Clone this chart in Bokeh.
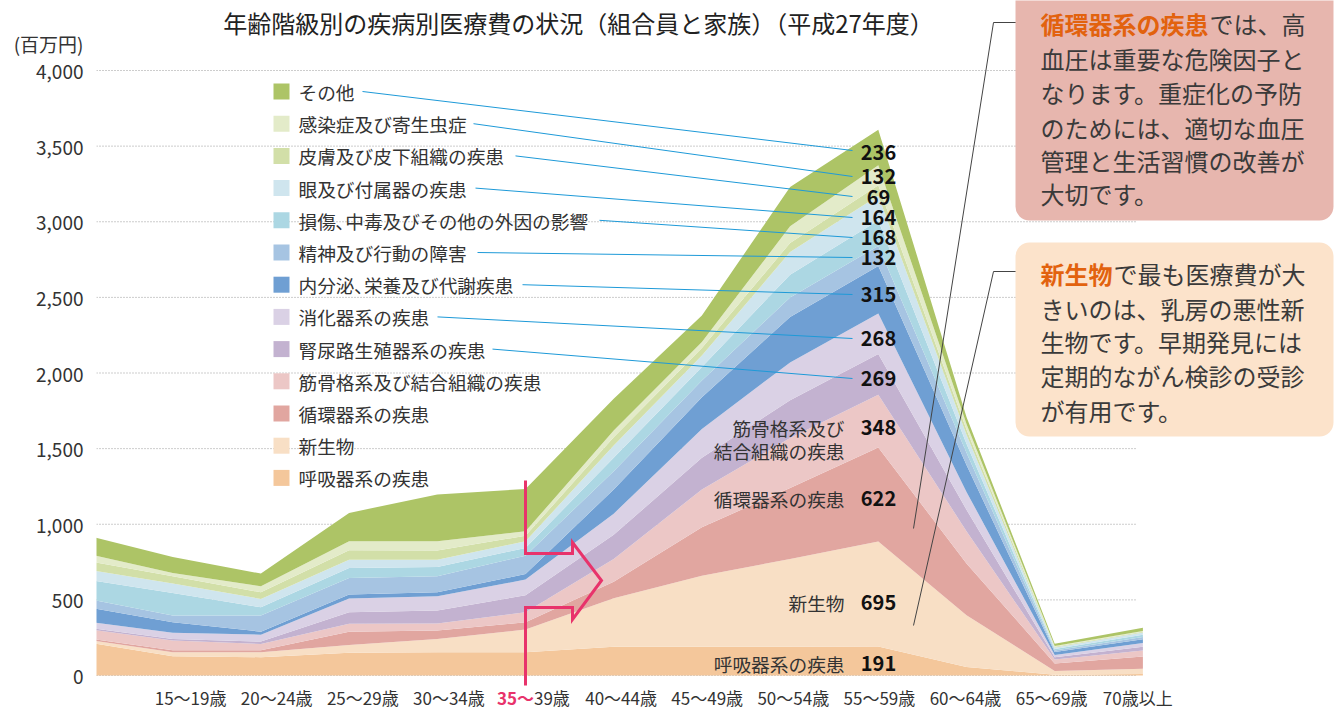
from bokeh.plotting import figure
from bokeh.models import ColumnDataSource, FixedTicker, NumeralTickFormatter, Range1d, BoxAnnotation
from bokeh.core.properties import value
from bokeh.embed import file_html
from bokeh.resources import INLINE

FONT = value("Noto Sans CJK JP")

# ---------------- data ----------------
age_labels = ["", "15～19歳", "20～24歳", "25～29歳", "30～34歳", "35～39歳", "40～44歳",
              "45～49歳", "50～54歳", "55～59歳", "60～64歳", "65～69歳", "70歳以上"]

# stacking order: bottom -> top
series_names = ["呼吸器系の疾患", "新生物", "循環器系の疾患", "筋骨格系及び結合組織の疾患",
                "腎尿路生殖器系の疾患", "消化器系の疾患", "内分泌、栄養及び代謝疾患",
                "精神及び行動の障害", "損傷、中毒及びその他の外因の影響", "眼及び付属器の疾患",
                "皮膚及び皮下組織の疾患", "感染症及び寄生虫症", "その他"]
legend_names = ["呼吸器系の疾患", "新生物", "循環器系の疾患", "筋骨格系及び結合組織の疾患",
                "腎尿路生殖器系の疾患", "消化器系の疾患", "内分泌､栄養及び代謝疾患",
                "精神及び行動の障害", "損傷､中毒及びその他の外因の影響", "眼及び付属器の疾患",
                "皮膚及び皮下組織の疾患", "感染症及び寄生虫症", "その他"]
colors = ["#f4c79b", "#f8dfc5", "#e1a6a0", "#ecc7c6", "#c3b2d0", "#dad1e5", "#6f9fd3",
          "#a6c4e2", "#acd7e3", "#cfe5ee", "#d2dfa8", "#e3ebc9", "#adc466"]

respiratory = [222, 128, 121, 150, 154, 154, 190, 190, 190, 191, 57, 5, 10]
neoplasm    = [18, 26, 33, 51, 88, 150, 320, 470, 580, 695, 342, 25, 35]
circulatory = [8, 13, 13, 88, 55, 48, 110, 320, 470, 622, 342, 50, 80]
musculo     = [62, 64, 42, 53, 46, 66, 150, 250, 330, 348, 213, 25, 40]
renal       = [9, 11, 15, 77, 86, 112, 160, 210, 250, 269, 142, 15, 25]
digestive   = [40, 40, 46, 90, 95, 104, 140, 190, 250, 268, 118, 15, 25]
endocrine   = [95, 70, 20, 26, 26, 37, 160, 210, 300, 315, 177, 20, 25]
mental      = [57, 44, 106, 110, 106, 121, 120, 110, 130, 132, 82, 10, 15]
injury      = [126, 150, 55, 66, 62, 51, 90, 90, 150, 168, 59, 10, 15]
eye         = [66, 62, 55, 55, 48, 44, 80, 75, 150, 164, 60, 10, 15]
skin        = [57, 48, 44, 62, 60, 37, 55, 50, 60, 69, 35, 5, 5]
infection   = [48, 22, 40, 60, 62, 29, 45, 40, 110, 132, 35, 5, 5]
other       = [122, 106, 84, 187, 309, 280, 210, 175, 260, 236, 47, 15, 20]

series_values = [respiratory, neoplasm, circulatory, musculo, renal, digestive, endocrine,
                 mental, injury, eye, skin, infection, other]

y_ticks = [0, 500, 1000, 1500, 2000, 2500, 3000, 3500, 4000]
unit_label = "(百万円)"
highlight_col = 9  # 55～59歳

# ---------------- layout helpers (page pixel -> data) ----------------
X0_PX, DX_PX = 84.0, 88.2
Y0_PX, DY_PX = 675.0, 0.15125
def X(px): return (px - X0_PX) / DX_PX
def Y(py): return (Y0_PX - py) / DY_PX

W, H = 1335, 712
LEFT = 96
p = figure(width=W, height=H, output_backend="svg", toolbar_location=None,
           x_range=Range1d(X(LEFT), X(W)), y_range=Range1d(Y(H), Y(0)),
           x_axis_location=None, min_border_left=LEFT, min_border_right=0,
           min_border_top=0, min_border_bottom=0)
p.outline_line_color = None
p.grid.visible = False

unit_tick = 4180
yax = p.yaxis[0]
yax.ticker = FixedTicker(ticks=y_ticks + [unit_tick])
yax.formatter = NumeralTickFormatter(format="0,0")
yax.major_label_overrides = {unit_tick: unit_label}
yax.axis_line_color = None
yax.major_tick_line_color = None
yax.minor_tick_line_color = None
yax.major_tick_out = 0
yax.major_label_standoff = 13
yax.major_label_text_font = "Noto Sans CJK JP"
yax.major_label_text_font_size = "19px"
yax.major_label_text_color = "#333333"

# gridlines
p.segment(x0=[X(96)] * len(y_ticks), x1=[X(1135)] * len(y_ticks), y0=y_ticks, y1=y_ticks,
          line_color="#9a9a9a", line_width=1, line_dash="1 2", level="underlay")

# stacked areas
data = {"x": list(range(len(age_labels)))}
for name, vals in zip(series_names, series_values):
    data[name] = vals
src = ColumnDataSource(data)
p.varea_stack(stackers=series_names, x="x", color=colors, source=src)

# x labels (the label row is spaced slightly tighter than the data points)
def lab_off(k): return 20 - 2.1 * k
xl_idx = [i for i, t in enumerate(age_labels) if t and i != 5]
p.text(x=xl_idx, y=[Y(697)] * len(xl_idx), text=[age_labels[i] for i in xl_idx],
       x_offset=[lab_off(i) for i in xl_idx],
       text_font=FONT, text_font_size="17px", text_color="#333333",
       text_align="center", text_baseline="middle")
p.text(x=[5], y=[Y(697)], text=["35～"], text_font=FONT, text_font_size="17px",
       text_font_style="bold", text_color="#e8336b", text_align="right", text_baseline="middle",
       x_offset=[lab_off(5) - 1])
p.text(x=[5], y=[Y(697)], text=["39歳"], text_font=FONT, text_font_size="17px",
       text_color="#333333", text_align="left", text_baseline="middle", x_offset=[lab_off(5) - 1])

# title
p.text(x=[X(578)], y=[Y(22)], text=["年齢階級別の疾病別医療費の状況（組合員と家族）（平成27年度）"],
       text_font=FONT, text_font_size="24px", text_color="#222222",
       text_align="center", text_baseline="middle")

# legend (top = その他)
n = len(series_names)
leg_rows = [91 + 32.2 * i for i in range(n)]
leg_names_top = legend_names[::-1]
leg_colors_top = colors[::-1]
p.scatter(x=[X(281)] * n, y=[Y(r) for r in leg_rows], marker="square", size=16,
          fill_color=leg_colors_top, line_color=None)
p.text(x=[X(298)] * n, y=[Y(r) for r in leg_rows], text=leg_names_top, text_font=FONT,
       text_font_size="18.7px", text_color="#333333", text_align="left", text_baseline="middle")

# leader lines from legend to values (top 9 series)
lead_start_px = [362, 473, 515, 475, 599, 477, 522, 437, 492]
lead_end_py = [150, 176, 196, 217, 237, 257, 294, 338, 378]
p.segment(x0=[X(s) for s in lead_start_px], y0=[Y(leg_rows[i]) for i in range(9)],
          x1=[X(852)] * 9, y1=[Y(e) for e in lead_end_py],
          line_color="#1e9ad8", line_width=1)

# value labels for 55～59歳
vals_top = [v[highlight_col] for v in series_values][::-1]
val_py = [152, 176, 197, 217, 237, 257, 294, 338, 378, 427, 498, 602, 663]
p.text(x=[X(878)] * n, y=[Y(v) for v in val_py], text=[str(v) for v in vals_top],
       text_font=FONT, text_font_size="20px", text_font_style="bold", text_color="#111111",
       text_align="center", text_baseline="middle")

# in-chart category labels
inside_txt = ["筋骨格系及び", "結合組織の疾患", "循環器系の疾患", "新生物", "呼吸器系の疾患"]
inside_py = [427, 450, 498, 602, 663]
p.text(x=[X(844)] * 5, y=[Y(v) for v in inside_py], text=inside_txt, text_font=FONT,
       text_font_size="18.7px", text_color="#333333", text_align="right", text_baseline="middle")

# pink arrow at 35～39歳
arrow_px = [(525, 480), (525, 553), (572, 553), (572, 542), (601, 580), (572, 619),
            (572, 607), (525, 607), (525, 685)]
p.line(x=[X(a) for a, b in arrow_px], y=[Y(b) for a, b in arrow_px], line_color="#e8336b",
       line_width=3, line_join="miter")

# callout leader lines
p.line(x=[X(1016), X(993), X(913)], y=[Y(22), Y(22), Y(528)], line_color="#444444", line_width=1)
p.line(x=[X(1016), X(993), X(913)], y=[Y(271), Y(271), Y(625)], line_color="#444444", line_width=1)

# callout boxes
p.add_layout(BoxAnnotation(left=X(1015), right=X(1333), top=Y(-20), bottom=Y(220),
                           fill_color="#e7b6ae", fill_alpha=1, line_color=None, border_radius=14))
p.add_layout(BoxAnnotation(left=X(1015), right=X(1333), top=Y(242), bottom=Y(436),
                           fill_color="#fce3cb", fill_alpha=1, line_color=None, border_radius=14))

box_font = "24px"
b1_lines = ["では、高", "血圧は重要な危険因子と", "なります。重症化の予防",
            "のためには、適切な血圧", "管理と生活習慣の改善が", "大切です。"]
b1_py = [23, 58, 92, 127, 160, 193]
p.text(x=[X(1040)], y=[Y(b1_py[0])], text=["循環器系の疾患"], text_font=FONT,
       text_font_size=box_font, text_font_style="bold", text_color="#e2620e",
       text_align="left", text_baseline="middle", level="overlay")
p.text(x=[X(1040)] * 6, y=[Y(v) for v in b1_py], text=b1_lines, text_font=FONT,
       text_font_size=box_font, text_color="#3a3a3a", text_align="left", text_baseline="middle",
       x_offset=[169, 0, 0, 0, 0, 0], level="overlay")

b2_lines = ["で最も医療費が大", "きいのは、乳房の悪性新", "生物です。早期発見には",
            "定期的ながん検診の受診", "が有用です。"]
b2_py = [273, 308, 341, 375, 410]
p.text(x=[X(1040)], y=[Y(b2_py[0])], text=["新生物"], text_font=FONT,
       text_font_size=box_font, text_font_style="bold", text_color="#e2620e",
       text_align="left", text_baseline="middle", level="overlay")
p.text(x=[X(1040)] * 5, y=[Y(v) for v in b2_py], text=b2_lines, text_font=FONT,
       text_font_size=box_font, text_color="#3a3a3a", text_align="left", text_baseline="middle",
       x_offset=[73, 0, 0, 0, 0], level="overlay")

open("out.html", "w").write(file_html(p, INLINE))
